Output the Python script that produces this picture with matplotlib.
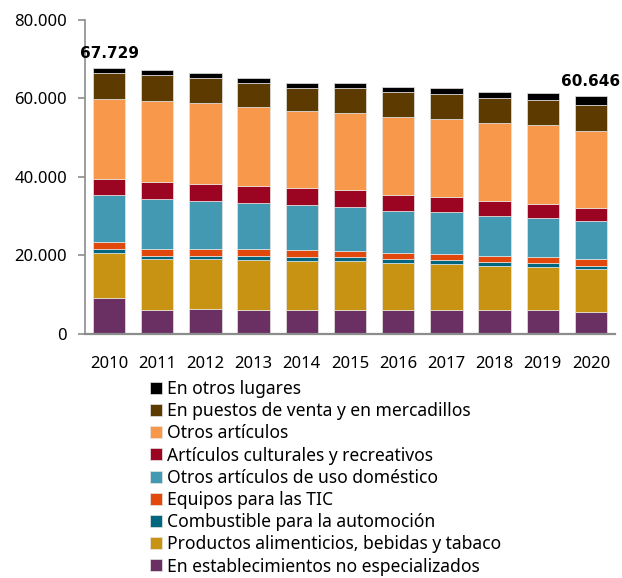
import matplotlib
matplotlib.use('Agg')
import matplotlib.pyplot as plt
import numpy as np

plt.rcParams['font.family'] = ['Noto Sans', 'DejaVu Sans']

years = ['2010', '2011', '2012', '2013', '2014', '2015',
         '2016', '2017', '2018', '2019', '2020']

# stacked from bottom to top
no_especializados = [9105, 6042, 6297, 6042, 6042, 6042, 6042, 6042, 6042, 6042, 5532]
alimentos = [11402, 12935, 12680, 12680, 12510, 12510, 11999, 11659, 11233, 10893, 10808]
combustible = [936, 851, 851, 936, 1021, 851, 851, 936, 1021, 1106, 936]
equipos_tic = [1872, 1617, 1617, 1787, 1617, 1617, 1702, 1532, 1362, 1532, 1617]
uso_domestico = [12083, 12850, 12340, 11829, 11574, 11233, 10723, 10723, 10382, 9957, 9787]
culturales = [4084, 4340, 4340, 4425, 4255, 4255, 4085, 3830, 3830, 3574, 3404]
otros_articulos = [20422, 20594, 20679, 19999, 19828, 19828, 19743, 19999, 19828, 19999, 19573]
mercadillos = [6552, 6723, 6383, 6212, 5872, 6383, 6383, 6297, 6383, 6468, 6553]
otros_lugares = [1273, 1191, 1277, 1277, 1277, 1277, 1447, 1532, 1447, 1872, 2436]

series = [
    ('En establecimientos no especializados', no_especializados, '#6A3064'),
    ('Productos alimenticios, bebidas y tabaco', alimentos, '#C89212'),
    ('Combustible para la automoción', combustible, '#00677F'),
    ('Equipos para las TIC', equipos_tic, '#E2480B'),
    ('Otros artículos de uso doméstico', uso_domestico, '#4399B1'),
    ('Artículos culturales y recreativos', culturales, '#9B0521'),
    ('Otros artículos', otros_articulos, '#F7984A'),
    ('En puestos de venta y en mercadillos', mercadillos, '#5C3A00'),
    ('En otros lugares', otros_lugares, '#000000'),
]

fig = plt.figure(figsize=(6.22, 5.78), dpi=100)
ax = fig.add_axes([85 / 622, 1 - 333.5 / 578, 530 / 622, 313.5 / 578])

x = np.arange(len(years))
bottom = np.zeros(len(years))
bars = []
for label, vals, col in series:
    b = ax.bar(x, vals, 0.67, bottom=bottom, color=col, label=label,
               edgecolor='#e6e6e6', linewidth=0.5)
    bars.append(b)
    bottom += np.array(vals)

# totals for first and last year
for i in (0, len(years) - 1):
    ax.annotate(f'{int(round(bottom[i])):,}'.replace(',', '.'),
                (x[i], bottom[i]), xytext=(0, 5), textcoords='offset points',
                ha='center', va='bottom', fontsize=11, fontweight='bold',
                family='DejaVu Sans')

ax.set_xlim(-0.5, len(years) - 0.5)
ax.set_ylim(0, 80000)
ax.set_yticks([0, 20000, 40000, 60000, 80000])
ax.set_yticklabels(['0', '20.000', '40.000', '60.000', '80.000'])
ax.set_xticks(x)
ax.set_xticklabels(years)

for s in ('top', 'right'):
    ax.spines[s].set_visible(False)
ax.spines['left'].set_color('#8c8c8c')
ax.spines['left'].set_linewidth(1.2)
ax.spines['bottom'].set_color('#8c8c8c')
ax.spines['bottom'].set_linewidth(1.6)
ax.tick_params(axis='y', length=5, width=1.2, color='#8c8c8c', pad=8, labelsize=12)
ax.tick_params(axis='x', length=0, pad=16, labelsize=12)

handles = [b for b in bars][::-1]
labels = [s[0] for s in series][::-1]
fig.legend(handles, labels, loc='upper left',
           bbox_to_anchor=(150 / 622, 1 - 380 / 578), frameon=False,
           fontsize=12.6, handlelength=0.68, handleheight=0.68,
           handletextpad=0.3, labelspacing=0.24, borderpad=0, borderaxespad=0)

fig.savefig('out.png', dpi=100)
